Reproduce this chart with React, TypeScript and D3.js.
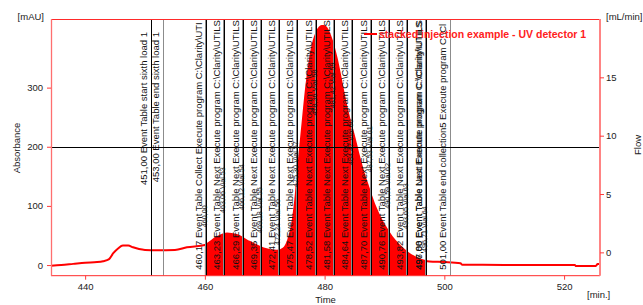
import { useEffect, useRef } from 'react'
import * as d3 from 'd3'

// Clarity chromatogram: UV detector trace with event table marks and the
// fraction collection window filled in red.

const W = 643
const H = 305
const M = { left: 51, right: 600, top: 19, bottom: 275.7 }

// UV detector 1 trace, time [min] / absorbance [mAU]
const chromTimes = [
  434.3, 436, 438, 440, 442, 443, 444, 444.7, 445.5, 446.3, 447.2, 448, 449, 450,
  452, 455, 457, 460, 462, 463.7, 465.3, 467.5, 469.8, 472, 473.1, 473.9, 474.5,
  475.1, 475.6, 476.2, 477, 477.8, 478.7, 479.5, 479.8, 480.5, 481.2, 482, 482.9,
  483.5, 484.2, 485, 485.6, 486.4, 487.3, 488.4, 489.5, 490.3, 491.2, 492.5, 494,
  495, 496.2, 497.5, 500, 502.7, 503, 510, 521.8, 522, 525.3, 525.6, 526,
]
const chromValues = [
  -1, 0, 2, 4, 5, 6.5, 10, 20, 28, 33, 33, 30, 27, 25.5,
  25, 25.5, 30, 34, 47, 53.5, 50.7, 39, 28, 24, 28, 42, 65,
  110, 166, 228, 307, 363, 394, 404, 404, 398, 380, 350, 305,
  275, 245, 215, 190, 160, 132, 100, 76, 62, 48, 33, 20,
  14, 8.5, 6, 5, 3, 0.5, 0.3, 0, -1.7, -1.7, 1.7, 1.7,
]

// flow [mL/min]
const flowTimes = [434.3, 526]
const flowValues = [9, 9]

// collected fraction window
const collectStart = 460.0
const collectEnd = 497.0

// event table
const eventTimes = [
  451.0, 453.0, 460.17, 463.23, 466.29, 469.35, 472.41, 475.47, 478.52, 481.58,
  484.64, 487.7, 490.76, 493.82, 496.88, 497.0, 501.0,
]
const nextText = 'Event Table Next Execute program C:\\Clarity\\UTILS\\collect.exe'
const eventTexts = [
  'Event Table start sixth load 1',
  'Event Table end sixth load 1',
  'Event Table Collect Execute program C:\\Clarity\\UTILS\\collect.exe',
  nextText, nextText, nextText, nextText, nextText, nextText, nextText,
  nextText, nextText, nextText, nextText, nextText,
  'Event Table Last Execute program C:\\Clarity\\UTILS\\collect.exe',
  'Event Table end collection5 Execute program C:\\Clarity\\UTILS\\collect.exe',
]

// vial (injection) marks and the level [mAU] where their label starts
const vialTimes = [
  460.0, 463.06, 466.12, 469.18, 472.24, 475.3, 478.36, 481.42, 484.47, 487.53,
  490.59, 493.65, 496.71,
]
const vialNames = ['', 'Vial 53', 'Vial 54', 'Vial 55', 'Vial 56', 'Vial 57', 'Vial 58',
  'Vial 59', 'Vial 60', 'Vial 61', 'Vial 62', 'Vial 63', 'Vial 64']
const vialLevels = [64, 88, 93, 54, 34, 132, 253, 265, 169, 157, 95, 61, 22]

const leftTicks = [0, 100, 200, 300]
const rightTicks = [0, 5, 10, 15]
const timeTicks = [440, 460, 480, 500, 520]

const legendText = 'stacked injection example - UV detector 1'

const fmt = (t: number) => t.toFixed(2).replace('.', ',')

export default function App() {
  const svgRef = useRef<SVGSVGElement>(null)

  useEffect(() => {
    if (!svgRef.current) return
    const svg = d3.select(svgRef.current)
    svg.selectAll('*').remove()

    const font = '"Liberation Sans", Arial, sans-serif'
    const red = '#ff0000'

    const x = d3.scaleLinear().domain([434.3, 526]).range([M.left, M.right])
    const y = d3.scaleLinear().domain([-18, 416]).range([M.bottom, M.top])
    const yFlow = d3.scaleLinear().domain([-2, 20]).range([M.bottom, M.top])

    const chrom = chromTimes.map((t, i) => ({ t, v: chromValues[i] }))
    const interp = d3.scaleLinear().domain(chromTimes).range(chromValues)
    const fillTimes = [
      collectStart,
      ...chromTimes.filter(t => t > collectStart && t < collectEnd),
      collectEnd,
    ]
    const fillData = fillTimes.map(t => ({ t, v: interp(t) }))

    svg.append('defs').append('clipPath').attr('id', 'plot-clip')
      .append('rect')
      .attr('x', M.left).attr('y', M.top)
      .attr('width', M.right - M.left).attr('height', M.bottom - M.top)

    const plot = svg.append('g').attr('clip-path', 'url(#plot-clip)')

    // collected fraction
    plot.append('path')
      .datum(fillData)
      .attr('fill', red)
      .attr('d', d3.area<{ t: number; v: number }>()
        .x(d => x(d.t)).y0(M.bottom).y1(d => y(d.v))
        .curve(d3.curveMonotoneX))

    // trace
    plot.append('path')
      .datum(chrom)
      .attr('fill', 'none')
      .attr('stroke', red)
      .attr('stroke-width', 2)
      .attr('d', d3.line<{ t: number; v: number }>()
        .x(d => x(d.t)).y(d => y(d.v))
        .curve(d3.curveMonotoneX))

    // vial marks
    plot.selectAll('.vial-line')
      .data(vialTimes)
      .enter().append('line')
      .attr('x1', d => Math.round(x(d)) + 0.5).attr('x2', d => Math.round(x(d)) + 0.5)
      .attr('y1', M.top).attr('y2', M.bottom)
      .attr('stroke', '#8c8c8c')

    // event marks
    plot.selectAll('.event-line')
      .data(eventTimes)
      .enter().append('line')
      .attr('x1', d => Math.round(x(d)) + 0.5).attr('x2', d => Math.round(x(d)) + 0.5)
      .attr('y1', M.top).attr('y2', M.bottom)
      .attr('stroke', (d, i) => eventTexts[i].includes(' end ') ? '#8c8c8c' : '#000')

    // event labels: short ones hang from the top, long ones grow from the
    // bottom and are cut where the plot ends (as Clarity does)
    const usable = M.bottom - M.top - 24
    const fromBottom = M.bottom - 6
    eventTimes.forEach((t, i) => {
      const full = `${fmt(t)} ${eventTexts[i]}`
      const txt = plot.append('text')
        .attr('font-family', font)
        .attr('font-size', 9.5)
        .attr('fill', '#111')
        .text(full)
      const node = txt.node() as SVGTextElement
      const long = node.getComputedTextLength() > usable
      if (long) {
        let s = full
        while (s.length > 1 && node.getComputedTextLength() > fromBottom - M.top - 1) {
          s = s.slice(0, -1)
          txt.text(s)
        }
      }
      txt.attr('text-anchor', long ? 'start' : 'end')
        .attr('transform', `translate(${x(t) - 4},${long ? fromBottom : M.top + 13}) rotate(-90)`)
    })

    // vial labels
    plot.selectAll('.vial-label')
      .data(vialTimes)
      .enter().append('text')
      .attr('font-family', font)
      .attr('font-size', 7.2)
      .attr('fill', '#111')
      .attr('transform', (d, i) => `translate(${x(d) + 2},${y(vialLevels[i])}) rotate(-90)`)
      .text((d, i) => `${fmt(d)} ${vialNames[i]}`.trim())

    // flow
    plot.append('path')
      .datum(flowTimes.map((t, i) => ({ t, v: flowValues[i] })))
      .attr('fill', 'none')
      .attr('stroke', '#000')
      .attr('d', d3.line<{ t: number; v: number }>().x(d => x(d.t)).y(d => Math.round(yFlow(d.v)) + 0.5))

    // frame
    svg.append('line').attr('x1', M.left).attr('x2', M.right)
      .attr('y1', M.top + 0.5).attr('y2', M.top + 0.5).attr('stroke', '#ff2a2a')
    svg.append('line').attr('x1', M.left).attr('x2', M.right)
      .attr('y1', M.bottom).attr('y2', M.bottom).attr('stroke', '#ff2a2a')
    svg.append('line').attr('x1', M.left + 0.5).attr('x2', M.left + 0.5)
      .attr('y1', M.top).attr('y2', M.bottom).attr('stroke', '#ff6f6f').attr('stroke-width', 1.3)
    svg.append('line').attr('x1', M.right).attr('x2', M.right)
      .attr('y1', M.top).attr('y2', M.bottom).attr('stroke', '#ff8484').attr('stroke-width', 2)

    const styleAxis = (ax: d3.Selection<SVGGElement, unknown, null, undefined>) => {
      ax.attr('font-family', font).attr('font-size', 9.5)
      ax.select('.domain').remove()
      ax.selectAll('line').attr('stroke', '#ff3a3a')
      ax.selectAll('text').attr('fill', '#222')
    }

    svg.append('g')
      .attr('transform', `translate(${M.left},0)`)
      .call(d3.axisLeft(y).tickValues(leftTicks).tickSize(4).tickPadding(4))
      .call(styleAxis)

    svg.append('g')
      .attr('transform', `translate(${M.right},0)`)
      .call(d3.axisRight(yFlow).tickValues(rightTicks).tickSize(4).tickPadding(2))
      .call(styleAxis)

    svg.append('g')
      .attr('transform', `translate(0,${M.bottom})`)
      .call(d3.axisBottom(x).tickValues(timeTicks).tickSize(4).tickPadding(4))
      .call(styleAxis)

    // axis titles and units
    const label = (tx: string, px: number, py: number, anchor: string, rot = 0) =>
      svg.append('text')
        .attr('font-family', font).attr('font-size', 9.5).attr('fill', '#222')
        .attr('text-anchor', anchor)
        .attr('transform', `translate(${px},${py}) rotate(${rot})`)
        .text(tx)

    label('[mAU]', 44, 20, 'end')
    label('[mL/min]', 606, 20, 'start')
    label('[min.]', 587, 298, 'start')
    label('Time', (M.left + M.right) / 2, 303, 'middle')
    label('Absorbance', 20, 148, 'middle', -90)
    label('Flow', 641, 145, 'middle', -90)

    // legend
    const lg = svg.append('g')
    lg.append('line')
      .attr('x1', 364).attr('x2', 377).attr('y1', 34).attr('y2', 34)
      .attr('stroke', red).attr('stroke-width', 2)
    lg.append('text')
      .attr('x', 379).attr('y', 37.5)
      .attr('font-family', font).attr('font-size', 10.5).attr('font-weight', 'bold')
      .attr('fill', '#ff2020')
      .text(legendText)
  }, [])

  return (
    <svg
      ref={svgRef}
      width={W}
      height={H}
      style={{ position: 'absolute', left: 0, top: 0, background: '#fff' }}
    />
  )
}
